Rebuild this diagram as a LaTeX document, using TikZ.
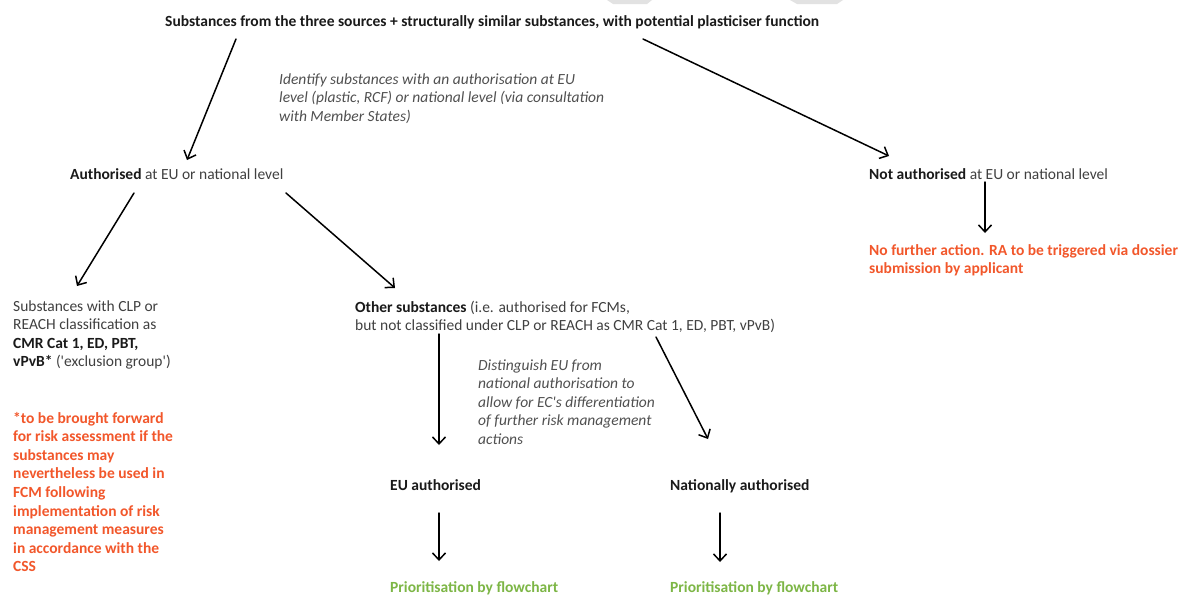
\documentclass[tikz,border=0pt]{standalone}
\usepackage{fontspec}
\setmainfont{Carlito}
\usetikzlibrary{arrows.meta}
\definecolor{txtgray}{HTML}{404040}
\definecolor{txtbold}{HTML}{1A1A1A}
\definecolor{noteit}{HTML}{505050}
\definecolor{redtxt}{HTML}{F2572B}
\definecolor{greentxt}{HTML}{7DB646}
\definecolor{ghost}{HTML}{E2E2E2}
\tikzset{
  lbl/.style={anchor=base west, inner sep=0pt, align=left, text=txtgray,
    font=\fontsize{15.5}{18.6}\selectfont},
  note/.style={lbl, text=noteit, font=\fontsize{15.5}{18.6}\selectfont\itshape},
  redlbl/.style={lbl, text=redtxt, font=\fontsize{15.5}{18.6}\selectfont\bfseries},
  greenlbl/.style={lbl, text=greentxt, font=\fontsize{15.5}{18.6}\selectfont\bfseries},
  flow/.style={draw=black, line width=1.5pt, line cap=round,
    -{Straight Barb[length=7pt,width=13pt,line width=1.5pt]}}
}
\newcommand{\bb}[1]{{\bfseries\color{txtbold}#1}}
\newcommand{\sq}{\textquotesingle}
\begin{document}
\begin{tikzpicture}[x=1pt,y=-1pt]
\useasboundingbox (0,0) rectangle (1182,595);
\fill[white] (0,0) rectangle (1182,595);
% faint shapes at top edge
\fill[ghost] (607,0) -- (652,0) -- (647,4) -- (613,4) -- cycle;
\fill[ghost] (790,0) -- (843,0) -- (837,4) -- (797,4) -- cycle;

% base anchor = baseline of the last line
\node[lbl] (title) at (165,26.5) {\bb{Substances from the three sources + structurally similar substances, with potential plasticiser function}};
\node[note] (note1) at (279,121.2) {Identify substances with an authorisation at EU\\level (plastic, RCF) or national level (via consultation\\with Member States)};
\node[lbl] (auth) at (70,179) {\bb{Authorised} at EU or national level};
\node[lbl] (notauth) at (869,179) {\bb{Not authorised} at EU or national level};
\node[redlbl] (nofurther) at (869,273.6) {No further action. RA to be triggered via dossier\\submission by applicant};
\node[lbl] (excl) at (13,366.8) {Substances with CLP or\\REACH classification as\\\bb{CMR Cat 1, ED, PBT,}\\\bb{vPvB*} (\sq exclusion group\sq)};
\node[redlbl] (star) at (13,571.8) {*to be brought forward\\for risk assessment if the\\substances may\\nevertheless be used in\\FCM following\\implementation of risk\\management measures\\in accordance with the\\CSS};
\node[lbl] (other) at (355,330.6) {\bb{Other substances} (i.e. authorised for FCMs,\\but not classified under CLP or REACH as CMR Cat 1, ED, PBT, vPvB)};
\node[note] (note2) at (478,444.4) {Distinguish EU from\\national authorisation to\\allow for EC\sq s differentiation\\of further risk management\\actions};
\node[lbl] (euauth) at (390,490) {\bb{EU authorised}};
\node[lbl] (natauth) at (670,490) {\bb{Nationally authorised}};
\node[greenlbl] (prio1) at (390,592) {Prioritisation by flowchart};
\node[greenlbl] (prio2) at (670,592) {Prioritisation by flowchart};

% connector end points
\coordinate (tA) at (236,39);  \coordinate (hA) at (187,160);
\coordinate (tB) at (643,39);  \coordinate (hB) at (889,156);
\coordinate (tC) at (985,182); \coordinate (hC) at (985,233);
\coordinate (tD) at (134,193); \coordinate (hD) at (77,286);
\coordinate (tE) at (286,193); \coordinate (hE) at (395,288);
\coordinate (tF) at (439,334); \coordinate (hF) at (439,445);
\coordinate (tG) at (656,337); \coordinate (hG) at (708,439);
\coordinate (tH) at (439,513); \coordinate (hH) at (439,561);
\coordinate (tI) at (720,513); \coordinate (hI) at (720,562);

\draw[flow] (tA) -- (hA);
\draw[flow] (tB) -- (hB);
\draw[flow] (tC) -- (hC);
\draw[flow] (tD) -- (hD);
\draw[flow] (tE) -- (hE);
\draw[flow] (tF) -- (hF);
\draw[flow] (tG) -- (hG);
\draw[flow] (tH) -- (hH);
\draw[flow] (tI) -- (hI);
\end{tikzpicture}
\end{document}
